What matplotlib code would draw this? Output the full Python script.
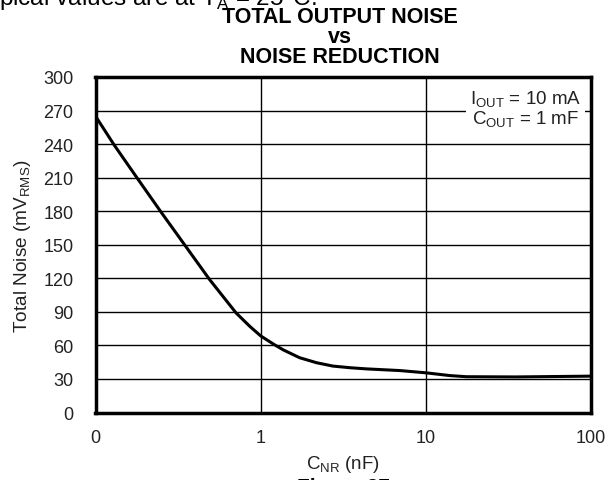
import matplotlib
matplotlib.use("Agg")
import matplotlib.pyplot as plt

plt.rcParams['font.family'] = ['Liberation Sans', 'DejaVu Sans']
plt.rcParams['mathtext.fontset'] = 'custom'
plt.rcParams['mathtext.rm'] = 'Liberation Sans'

# values (C_NR in nF, noise in uV rms)
c_nr = [0.1, 0.13, 0.18, 0.25, 0.35, 0.49, 0.71, 0.86, 1.0, 1.2, 1.37, 1.72,
        2.18, 2.74, 3.5, 4.37, 6.96, 10, 14, 17.6, 35, 100]
noise = [265, 239, 209, 179, 149, 119, 89, 77, 68.5, 61, 56, 49,
         44.5, 41.5, 40, 39, 37.5, 35.5, 33, 32, 31.8, 32.5]

x_ticks = [0.1, 1, 10, 100]
x_labels = ["0", "1", "10", "100"]
y_ticks = list(range(0, 301, 30))

fig = plt.figure(figsize=(6.07, 4.81), dpi=100)
ax = fig.add_axes([95.5 / 607, 1 - 413.5 / 481, (591 - 95.5) / 607, (413.5 - 78) / 481])

ax.set_xscale("log")
ax.set_xlim(0.1, 100)
ax.set_ylim(0, 300)
ax.set_xticks(x_ticks)
ax.set_xticklabels(x_labels)
ax.minorticks_off()
ax.set_yticks(y_ticks)
ax.tick_params(length=0, labelsize=13, colors="#222222")
ax.tick_params(axis="x", pad=12)
ax.tick_params(axis="y", pad=16)

# grid
for yv in y_ticks[1:-1]:
    ax.axhline(yv, color="black", lw=1, zorder=1)
for xv in x_ticks[1:-1]:
    ax.axvline(xv, color="black", lw=1, zorder=1)

ax.plot(c_nr, noise, color="black", lw=2.2, zorder=3)

for s in ax.spines.values():
    s.set_linewidth(2.5)

ax.set_xlabel(r"C$_\mathregular{NR}$ (nF)", fontsize=13.5, labelpad=5, color="#222222")
ax.set_ylabel(r"Total Noise (mV$_\mathregular{RMS}$)", fontsize=13.7, labelpad=7, color="#222222")

ax.text(0.868, 0.905, "I$_\\mathregular{OUT}$ = 10 mA\nC$_\\mathregular{OUT}$ = 1 mF",
        transform=ax.transAxes, ha="center", va="center", fontsize=13.5, linespacing=1.0,
        color="#222222", zorder=4,
        bbox=dict(boxstyle="square,pad=0.2", fc="white", ec="none"))

fig.text(340 / 607, 1 - 7 / 481, "TOTAL OUTPUT NOISE\nvs\nNOISE REDUCTION",
         ha="center", va="top", fontsize=15.5, fontweight="bold", linespacing=0.95)

# clipped page text above and below the figure
fig.text(-0.002, 1 - 5 / 481, r"pical values are at T$_\mathregular{A}$ = 25°C.",
         ha="left", va="baseline", fontsize=17.5)
fig.text(343 / 607, 1 - 478 / 481, "Figure 27", ha="center", va="top",
         fontsize=15, fontweight="bold")

fig.savefig("out.png", dpi=100)
